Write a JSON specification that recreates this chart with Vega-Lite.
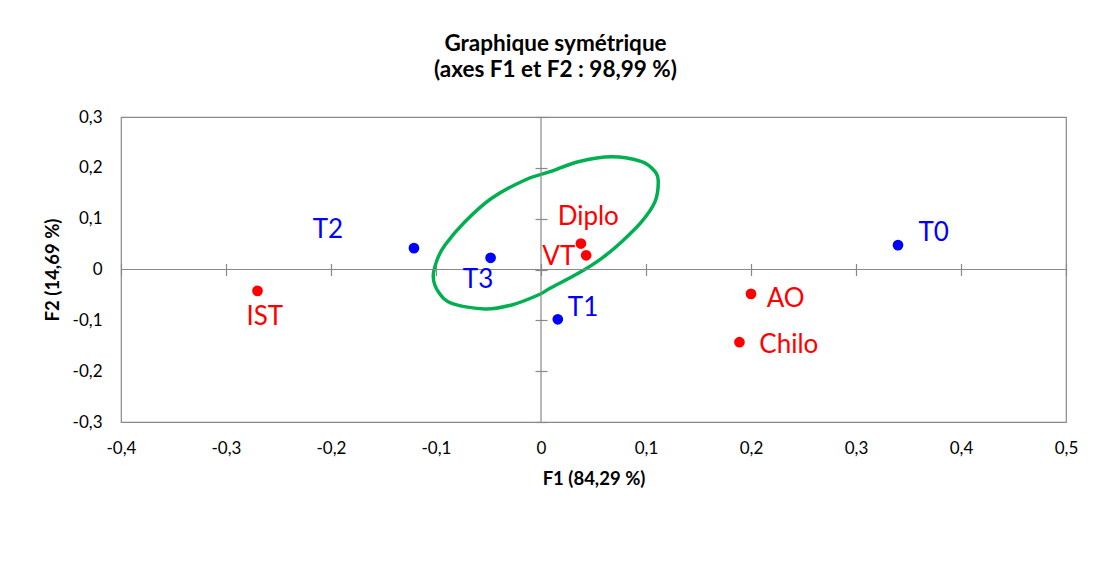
{
  "$schema": "https://vega.github.io/schema/vega-lite/v6.json",
  "autosize": "none",
  "width": 945,
  "height": 305,
  "padding": {"left": 121, "top": 117, "right": 30, "bottom": 155},
  "background": "white",
  "title": {
    "text": ["Graphique symétrique", "(axes F1 et F2 : 98,99 %)"],
    "fontSize": 22.5,
    "fontWeight": "bold",
    "lineHeight": 26,
    "color": "black",
    "anchor": "middle",
    "dx": -38,
    "offset": 27
  },
  "datasets": {
    "pts": [
      {"name": "T0", "type": "T", "x": 0.340, "y": 0.048, "lx": 0.374, "ly": 0.071},
      {"name": "T1", "type": "T", "x": 0.016, "y": -0.098, "lx": 0.040, "ly": -0.075},
      {"name": "T2", "type": "T", "x": -0.121, "y": 0.042, "lx": -0.203, "ly": 0.078},
      {"name": "T3", "type": "T", "x": -0.048, "y": 0.023, "lx": -0.060, "ly": -0.021},
      {"name": "IST", "type": "P", "x": -0.270, "y": -0.042, "lx": -0.263, "ly": -0.093},
      {"name": "Diplo", "type": "P", "x": 0.038, "y": 0.051, "lx": 0.045, "ly": 0.104},
      {"name": "VT", "type": "P", "x": 0.043, "y": 0.028, "lx": 0.017, "ly": 0.025},
      {"name": "AO", "type": "P", "x": 0.200, "y": -0.048, "lx": 0.233, "ly": -0.059},
      {"name": "Chilo", "type": "P", "x": 0.189, "y": -0.143, "lx": 0.236, "ly": -0.149}
    ],
    "ell": [
      {"i": 1, "x": 0.1117, "y": 0.1727},
      {"i": 2, "x": 0.1086, "y": 0.1334},
      {"i": 3, "x": 0.0959, "y": 0.0940},
      {"i": 4, "x": 0.0769, "y": 0.0547},
      {"i": 5, "x": 0.0578, "y": 0.0220},
      {"i": 6, "x": 0.0355, "y": -0.0075},
      {"i": 7, "x": 0.0086, "y": -0.0370},
      {"i": 8, "x": -0.0026, "y": -0.0502},
      {"i": 9, "x": -0.0279, "y": -0.0698},
      {"i": 10, "x": -0.0533, "y": -0.0777},
      {"i": 11, "x": -0.0850, "y": -0.0665},
      {"i": 12, "x": -0.0978, "y": -0.0437},
      {"i": 13, "x": -0.1026, "y": -0.0142},
      {"i": 14, "x": -0.0990, "y": 0.0187},
      {"i": 15, "x": -0.0914, "y": 0.0482},
      {"i": 16, "x": -0.0724, "y": 0.0940},
      {"i": 17, "x": -0.0470, "y": 0.1401},
      {"i": 18, "x": -0.0152, "y": 0.1761},
      {"i": 19, "x": 0.0086, "y": 0.1924},
      {"i": 20, "x": 0.0355, "y": 0.2121},
      {"i": 21, "x": 0.0673, "y": 0.2219},
      {"i": 22, "x": 0.0959, "y": 0.2121},
      {"i": 23, "x": 0.1086, "y": 0.1924}
    ],
    "zero": [{"v": 0}]
  },
  "layer": [
    {
      "data": {"name": "ell"},
      "mark": {"type": "line", "interpolate": "cardinal-closed", "color": "#00b050", "strokeWidth": 3.5},
      "encoding": {
        "x": {
          "field": "x", "type": "quantitative",
          "scale": {"domain": [-0.4, 0.5], "nice": false, "zero": false},
          "axis": {
            "orient": "bottom",
            "values": [-0.4, -0.3, -0.2, -0.1, 0, 0.1, 0.2, 0.3, 0.4, 0.5],
            "labelExpr": "replace(replace(format(datum.value, '.1~f'), '.', ','), '\u2212', '-')",
            "ticks": false, "tickSize": 0, "domain": false, "grid": false,
            "labelFlush": false, "labelOverlap": false,
            "labelPadding": 18, "labelFontSize": 17, "labelColor": "black",
            "title": "F1 (84,29 %)", "titleFontSize": 18.5, "titleFontWeight": "bold",
            "titleColor": "black", "titlePadding": 13
          }
        },
        "y": {
          "field": "y", "type": "quantitative",
          "scale": {"domain": [-0.3, 0.3], "nice": false, "zero": false},
          "axis": {
            "orient": "left",
            "values": [-0.3, -0.2, -0.1, 0, 0.1, 0.2, 0.3],
            "labelExpr": "replace(replace(format(datum.value, '.1~f'), '.', ','), '\u2212', '-')",
            "ticks": false, "tickSize": 0, "domain": false, "grid": false,
            "labelFlush": false, "labelOverlap": false,
            "labelPadding": 19, "labelFontSize": 17, "labelColor": "black",
            "title": "F2 (14,69 %)", "titleFontSize": 18.5, "titleFontWeight": "bold",
            "titleColor": "black", "titlePadding": 10
          }
        },
        "order": {"field": "i", "type": "quantitative"}
      }
    },
    {
      "data": {"name": "zero"},
      "mark": {"type": "rule", "color": "#898989", "strokeWidth": 1.2},
      "encoding": {
        "x": {
          "field": "v", "type": "quantitative",
          "axis": {
            "orient": "bottom", "offset": -158.5,
            "values": [-0.4, -0.3, -0.2, -0.1, 0, 0.1, 0.2, 0.3, 0.4, 0.5],
            "labels": false, "domain": false, "grid": false, "title": null,
            "ticks": true, "tickSize": 12, "tickColor": "#898989", "tickWidth": 1.2
          }
        }
      }
    },
    {
      "data": {"name": "zero"},
      "mark": {"type": "rule", "color": "#898989", "strokeWidth": 1.2},
      "encoding": {
        "y": {
          "field": "v", "type": "quantitative",
          "axis": {
            "orient": "left", "offset": -426,
            "values": [-0.3, -0.2, -0.1, 0, 0.1, 0.2, 0.3],
            "labels": false, "domain": false, "grid": false, "title": null,
            "ticks": true, "tickSize": 12, "tickColor": "#898989", "tickWidth": 1.2
          }
        }
      }
    },
    {
      "data": {"name": "pts"},
      "mark": {"type": "circle", "size": 115, "opacity": 1},
      "encoding": {
        "x": {"field": "x", "type": "quantitative", "axis": null},
        "y": {"field": "y", "type": "quantitative", "axis": null},
        "color": {"field": "type", "type": "nominal", "scale": {"domain": ["T", "P"], "range": ["#0000ff", "#ff0000"]}, "legend": null}
      }
    },
    {
      "data": {"name": "pts"},
      "mark": {"type": "text", "fontSize": 26, "align": "center", "baseline": "middle"},
      "encoding": {
        "x": {"field": "lx", "type": "quantitative", "axis": null},
        "y": {"field": "ly", "type": "quantitative", "axis": null},
        "text": {"field": "name", "type": "nominal"},
        "color": {"field": "type", "type": "nominal", "scale": {"domain": ["T", "P"], "range": ["#0000ff", "#ff0000"]}, "legend": null}
      }
    }
  ],
  "resolve": {"axis": {"x": "independent", "y": "independent"}},
  "config": {
    "font": "Lato",
    "view": {"stroke": "#898989", "strokeWidth": 1.2}
  }
}
